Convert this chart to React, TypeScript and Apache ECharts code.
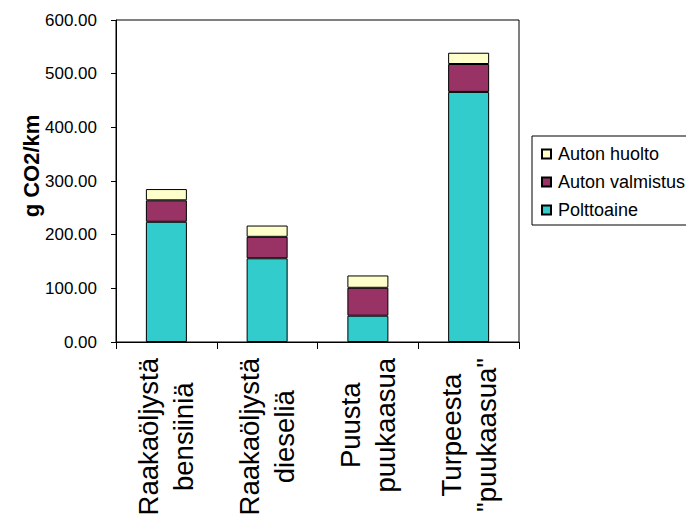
import React, { useEffect, useRef } from "react";
import * as echarts from "echarts";

const categories = [
  "Raakaöljystä\nbensiiniä",
  "Raakaöljystä\ndieseliä",
  "Puusta\npuukaasua",
  "Turpeesta\n\"puukaasua\"",
];
const polttoaine = [224, 156, 49, 466];
const autonValmistus = [40, 40, 52, 52];
const autonHuolto = [21, 21, 23, 21];
const legendOrder = ["Auton huolto", "Auton valmistus", "Polttoaine"];
const yAxisTitle = "g CO2/km";

const FONT = "'Liberation Sans', Arial, sans-serif";

export default function App() {
  const ref = useRef<HTMLDivElement>(null);
  useEffect(() => {
    if (!ref.current) return;
    const chart = echarts.init(ref.current, undefined, { renderer: "svg" });
    const barStyle = (color: string) => ({
      color,
      borderColor: "#000",
      borderWidth: 1,
    });
    chart.setOption({
      animation: false,
      backgroundColor: "#fff",
      textStyle: { fontFamily: FONT, color: "#000" },
      grid: {
        left: 116,
        right: 167,
        top: 20,
        bottom: 182,
        show: true,
        borderColor: "#000",
        borderWidth: 1,
        backgroundColor: "transparent",
      },
      legend: {
        orient: "vertical",
        left: 532,
        top: 136,
        data: legendOrder,
        itemWidth: 9,
        itemHeight: 9,
        itemGap: 10,
        padding: [9, 10, 6, 9],
        borderColor: "#000",
        borderWidth: 1,
        backgroundColor: "#fff",
        textStyle: { fontFamily: FONT, fontSize: 18, color: "#000", padding: [0, 0, 0, 2] },
        icon: "rect",
      },
      graphic: [
        {
          type: "text",
          x: 31,
          y: 166,
          rotation: Math.PI / 2,
          style: {
            text: yAxisTitle,
            fontFamily: FONT,
            fontSize: 22,
            fontWeight: "bold",
            fill: "#000",
            align: "center",
            verticalAlign: "middle",
          },
        },
      ],
      xAxis: {
        type: "category",
        data: categories,
        axisLine: { lineStyle: { color: "#000", width: 1 } },
        axisTick: { show: true, length: 7, lineStyle: { color: "#000" } },
        axisLabel: {
          rotate: 90,
          margin: 16,
          interval: 0,
          color: "#000",
          fontFamily: FONT,
          fontSize: 27.5,
          lineHeight: 35,
          formatter: (v: string) =>
            v
              .split("\n")
              .map((s) => `{c|${s}}`)
              .join("\n"),
          rich: {
            c: {
              align: "center",
              fontFamily: FONT,
              fontSize: 27.5,
              lineHeight: 35,
              color: "#000",
            },
          },
        },
      },
      yAxis: {
        type: "value",
        min: 0,
        max: 600,
        interval: 100,
        splitLine: { show: false },
        axisLine: { show: true, lineStyle: { color: "#000", width: 1 } },
        axisTick: { show: true, length: 5, lineStyle: { color: "#000" } },
        axisLabel: {
          color: "#000",
          fontFamily: FONT,
          fontSize: 17,
          margin: 19,
          formatter: (v: number) => v.toFixed(2),
        },
      },
      series: [
        {
          name: "Polttoaine",
          type: "bar",
          stack: "total",
          barWidth: 41,
          data: polttoaine,
          itemStyle: barStyle("#33CCCC"),
        },
        {
          name: "Auton valmistus",
          type: "bar",
          stack: "total",
          barWidth: 41,
          data: autonValmistus,
          itemStyle: barStyle("#993366"),
        },
        {
          name: "Auton huolto",
          type: "bar",
          stack: "total",
          barWidth: 41,
          data: autonHuolto,
          itemStyle: barStyle("#FFFFCC"),
        },
      ],
    });
    return () => chart.dispose();
  }, []);
  return (
    <div
      ref={ref}
      style={{ position: "fixed", left: 0, top: 0, width: 686, height: 524 }}
    />
  );
}
